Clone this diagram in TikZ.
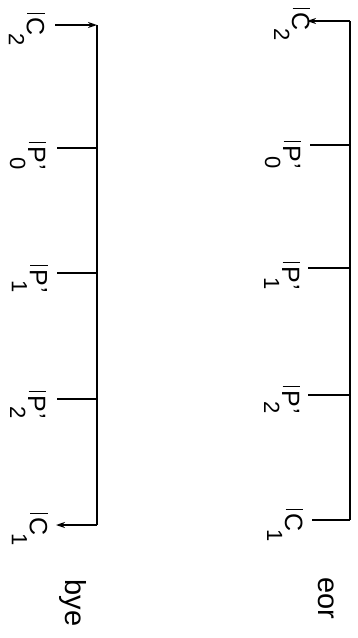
\documentclass[tikz,border=0pt]{standalone}
\usepackage{fontspec}
\setmainfont{Liberation Sans}
\usetikzlibrary{positioning, arrows.meta}
\newcommand{\sigbar}{\rule[0.5pt]{1.2pt}{17pt}\hspace{3pt}}
\newcommand{\sigsub}[1]{\raisebox{-18pt}{\fontsize{22}{22}\selectfont #1}}
\newcommand{\csig}[1]{\sigbar C\kern-2pt\sigsub{#1}}
\newcommand{\psig}[1]{\sigbar P\rlap{\kern1pt'}\kern-6pt\sigsub{#1}}

\begin{document}
\begin{tikzpicture}[x=1pt, y=1pt,
    every node/.style={font=\fontsize{25}{28}\selectfont, inner sep=0pt},
    lbl/.style={rotate=-90, anchor=base west},
    word/.style={rotate=-90, font=\fontsize{29}{32}\selectfont},
    bus/.style={line width=2.4pt},
    tick/.style={line width=1.6pt},
    tip/.style={-{Stealth[length=9pt, width=6pt]}},
  ]
  \useasboundingbox (0,0) rectangle (358,-638);

  % left column
  \coordinate (ltop) at (97,-25);
  \coordinate (lbot) at (97,-525);
  \coordinate (lc2) at (55,-25);
  \coordinate (lp0) at (57,-148);
  \coordinate (lp1) at (57,-273);
  \coordinate (lp2) at (57,-399);
  \coordinate (lc1) at (56,-525);
  \node[lbl] (lc2lbl) at (27,-13) {\csig{2}};
  \node[lbl] (lp0lbl) at (28,-142) {\psig{0}};
  \node[lbl] (lp1lbl) at (30,-265) {\psig{1}};
  \node[lbl] (lp2lbl) at (28,-391) {\psig{2}};
  \node[lbl] (lc1lbl) at (30,-513) {\csig{1}};
  \node[word] (bye) at (73,-603) {bye};
  \draw[tick, tip] (lc2) -- (ltop);
  \draw[bus] (ltop) -- (lbot);
  \draw[tick, tip] (lbot) -- (lc1);
  \foreach \t in {lp0, lp1, lp2}
    \draw[tick] (\t) -- (\t -| ltop);

  % right column
  \coordinate (rtop) at (350,-21);
  \coordinate (rbot) at (350,-520);
  \coordinate (rc2) at (307,-21);
  \coordinate (rp0) at (310,-145);
  \coordinate (rp1) at (308,-268);
  \coordinate (rp2) at (308,-395);
  \coordinate (rc1) at (312,-520);
  \node[lbl] (rc2lbl) at (292,-8) {\csig{2}};
  \node[lbl] (rp0lbl) at (283,-141) {\psig{0}};
  \node[lbl] (rp1lbl) at (282,-262) {\psig{1}};
  \node[lbl] (rp2lbl) at (282,-386) {\psig{2}};
  \node[lbl] (rc1lbl) at (285,-509) {\csig{1}};
  \node[word] (eor) at (326,-598) {eor};
  \draw[tick] (rc1) -- (rbot);
  \draw[bus] (rbot) -- (rtop);
  \draw[tick, tip] (rtop) -- (rc2);
  \foreach \t in {rp0, rp1, rp2}
    \draw[tick] (\t) -- (\t -| rtop);
\end{tikzpicture}
\end{document}
